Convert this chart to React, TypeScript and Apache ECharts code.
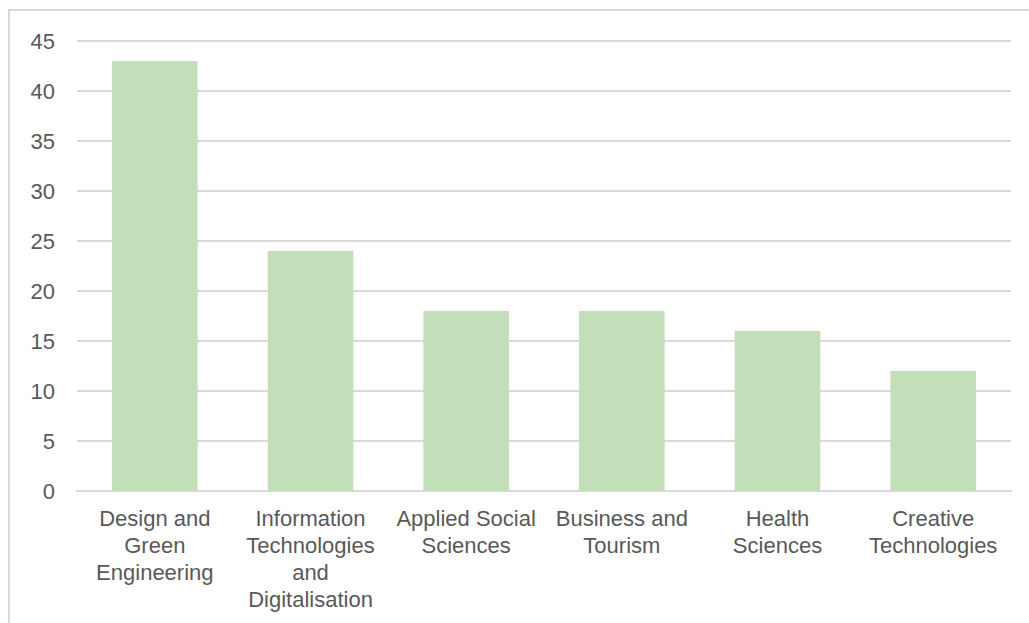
import React, { useEffect, useRef } from "react";
import * as echarts from "echarts";

const categories = [
  "Design and Green Engineering",
  "Information Technologies and Digitalisation",
  "Applied Social Sciences",
  "Business and Tourism",
  "Health Sciences",
  "Creative Technologies",
];
const tickLabels = [
  "Design and\nGreen\nEngineering",
  "Information\nTechnologies\nand\nDigitalisation",
  "Applied Social\nSciences",
  "Business and\nTourism",
  "Health\nSciences",
  "Creative\nTechnologies",
];
const values = [43, 24, 18, 18, 16, 12];

export default function App() {
  const ref = useRef<HTMLDivElement>(null);
  useEffect(() => {
    if (!ref.current) return;
    const chart = echarts.init(ref.current, null, { renderer: "svg" });
    const font = "'Liberation Sans', Arial, sans-serif";
    chart.setOption({
      animation: false,
      backgroundColor: "#ffffff",
      textStyle: { fontFamily: font },
      grid: { left: 77, right: 18, top: 41, bottom: 132, containLabel: false },
      graphic: [
        {
          type: "rect",
          shape: { x: 9, y: 10, width: 1100, height: 700 },
          style: { fill: "none", stroke: "#d9d9d9", lineWidth: 2 },
          silent: true,
        },
      ],
      xAxis: {
        type: "category",
        data: categories,
        axisLine: { show: true, lineStyle: { color: "#d9d9d9", width: 2 } },
        axisTick: { show: false },
        axisLabel: {
          interval: 0,
          color: "#595959",
          fontSize: 22,
          fontFamily: font,
          lineHeight: 27,
          margin: 14,
          align: "center",
          formatter: (_v: string, i: number) => tickLabels[i],
        },
      },
      yAxis: {
        type: "value",
        min: 0,
        max: 45,
        interval: 5,
        axisLine: { show: false },
        axisTick: { show: false },
        axisLabel: { color: "#595959", fontSize: 22, fontFamily: font, margin: 22 },
        splitLine: { lineStyle: { color: "#d9d9d9", width: 2 } },
      },
      series: [
        {
          type: "bar",
          data: values,
          barCategoryGap: "45%",
          itemStyle: { color: "#c2dfba" },
        },
      ],
    });
    return () => chart.dispose();
  }, []);
  return (
    <div
      ref={ref}
      style={{ position: "fixed", left: 0, top: 0, width: 1029, height: 623 }}
    />
  );
}
